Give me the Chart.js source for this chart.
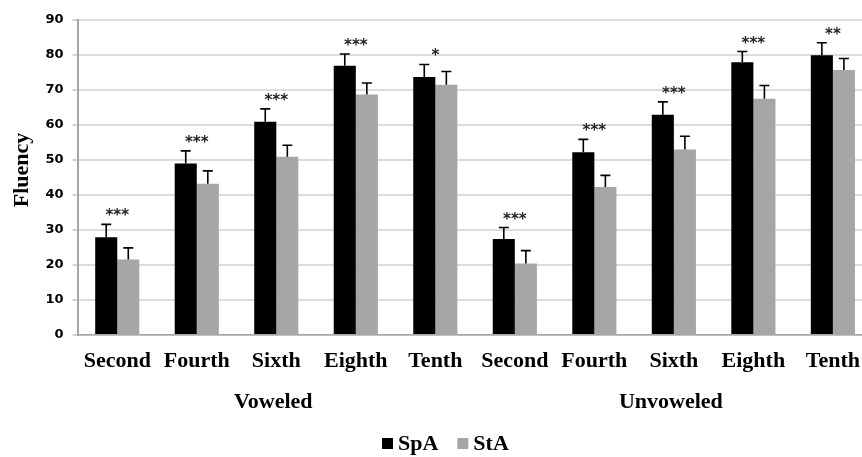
<!DOCTYPE html>
<html>
<head>
<meta charset="utf-8">
<script src="https://cdn.jsdelivr.net/npm/chart.js@4/dist/chart.umd.min.js"></script>
<style>
  html, body { margin:0; padding:0; background:#fff; overflow:hidden; }
  #wrap { width:873px; height:457px; }
</style>
</head>
<body>
<div id="wrap"><canvas id="fluencyChart" width="873" height="457"></canvas></div>
<script>
// grades and groups
const grades = ['Second', 'Fourth', 'Sixth', 'Eighth', 'Tenth'];
const groups = ['Voweled', 'Unvoweled'];

// means
const vowSpA = [27.9, 49.0, 60.9, 76.9, 73.7];
const vowStA = [21.6, 43.2, 50.9, 68.7, 71.5];
const unvSpA = [27.4, 52.2, 62.9, 77.9, 79.9];
const unvStA = [20.4, 42.3, 53.0, 67.5, 75.7];

// error bar sizes (upper only)
const vowSpAErr = [3.7, 3.6, 3.7, 3.4, 3.6];
const vowStAErr = [3.3, 3.7, 3.3, 3.3, 3.8];
const unvSpAErr = [3.3, 3.7, 3.7, 3.1, 3.6];
const unvStAErr = [3.7, 3.3, 3.8, 3.8, 3.3];

// significance marks
const stars = ['***', '***', '***', '***', '*', '***', '***', '***', '***', '**'];

const yTicks = { min: 0, max: 90, step: 10 };

const labels = grades.concat(grades);
const spa = vowSpA.concat(unvSpA);
const sta = vowStA.concat(unvStA);
const spaErr = vowSpAErr.concat(unvSpAErr);
const staErr = vowStAErr.concat(unvStAErr);

const BLACK = '#000000';
const GRAY  = '#a6a6a6';
const SERIF = '"Liberation Serif", "Times New Roman", serif';

// error bars, stars, group labels, y title and legend
const decor = {
  id: 'decor',
  afterDatasetsDraw(chart){
    const { ctx, scales:{ x, y } } = chart;
    const errs = [spaErr, staErr];
    ctx.save();
    ctx.strokeStyle = '#000';
    ctx.lineWidth = 1.6;
    errs.forEach((err, di) => {
      const meta = chart.getDatasetMeta(di);
      meta.data.forEach((bar, i) => {
        const v = chart.data.datasets[di].data[i];
        const y0 = y.getPixelForValue(v);
        const y1 = y.getPixelForValue(v + err[i]);
        ctx.beginPath();
        ctx.moveTo(bar.x, y0);
        ctx.lineTo(bar.x, y1);
        ctx.moveTo(bar.x - 5, y1);
        ctx.lineTo(bar.x + 5, y1);
        ctx.stroke();
      });
    });

    // stars
    ctx.fillStyle = '#222';
    ctx.font = 'bold 15px "DejaVu Sans", sans-serif';
    ctx.textAlign = 'center';
    ctx.textBaseline = 'alphabetic';
    stars.forEach((s, i) => {
      const top = Math.max(spa[i] + spaErr[i], sta[i] + staErr[i]);
      const cy = y.getPixelForValue(top) - 12;
      ctx.fillText(s, x.getPixelForValue(i), cy + 8);
    });

    // group labels
    ctx.fillStyle = '#000';
    ctx.font = 'bold 22px ' + SERIF;
    ctx.textBaseline = 'middle';
    groups.forEach((g, gi) => {
      const cx = x.getPixelForValue(gi * grades.length + 2);
      ctx.fillText(g, cx - 3, 402);
    });

    // y title
    ctx.save();
    ctx.translate(22, 170);
    ctx.rotate(-Math.PI / 2);
    ctx.fillText('Fluency', 0, 0);
    ctx.restore();

    // legend
    const items = [['SpA', BLACK], ['StA', GRAY]];
    ctx.textAlign = 'left';
    let lx = 382;
    items.forEach(([t, c]) => {
      ctx.fillStyle = c;
      ctx.fillRect(lx, 438, 11, 11);
      ctx.fillStyle = '#000';
      ctx.fillText(t, lx + 16, 444);
      lx += 16 + ctx.measureText(t).width + 19;
    });
    ctx.restore();
  }
};

new Chart(document.getElementById('fluencyChart'), {
  type: 'bar',
  data: {
    labels,
    datasets: [
      { label: 'SpA', data: spa, backgroundColor: BLACK, categoryPercentage: 0.555, barPercentage: 1.0 },
      { label: 'StA', data: sta, backgroundColor: GRAY,  categoryPercentage: 0.555, barPercentage: 1.0 }
    ]
  },
  options: {
    responsive: false,
    animation: false,
    layout: { padding: { top: 20, left: 0, right: 0, bottom: 0 } },
    plugins: { legend: { display: false }, tooltip: { enabled: false } },
    scales: {
      x: {
        grid: { display: false, drawTicks: false },
        border: { display: true, color: '#a6a6a6', width: 1.5 },
        ticks: { color: '#000', font: { family: SERIF, size: 22, weight: 'bold' }, padding: 13, maxRotation: 0, autoSkip: false },
        afterFit: s => { s.height = 122; }
      },
      y: {
        min: yTicks.min, max: yTicks.max,
        grid: { color: '#dcdcdc', lineWidth: 2, tickLength: 5, tickColor: '#a6a6a6', tickWidth: 1 },
        border: { display: true, color: '#a6a6a6', width: 2 },
        ticks: { stepSize: yTicks.step, color: '#000', padding: 9, font: { family: '"DejaVu Sans", sans-serif', size: 13, weight: 'bold' } },
        afterFit: s => { s.width = 77.5; }
      }
    }
  },
  plugins: [decor]
});
</script>
</body>
</html>
